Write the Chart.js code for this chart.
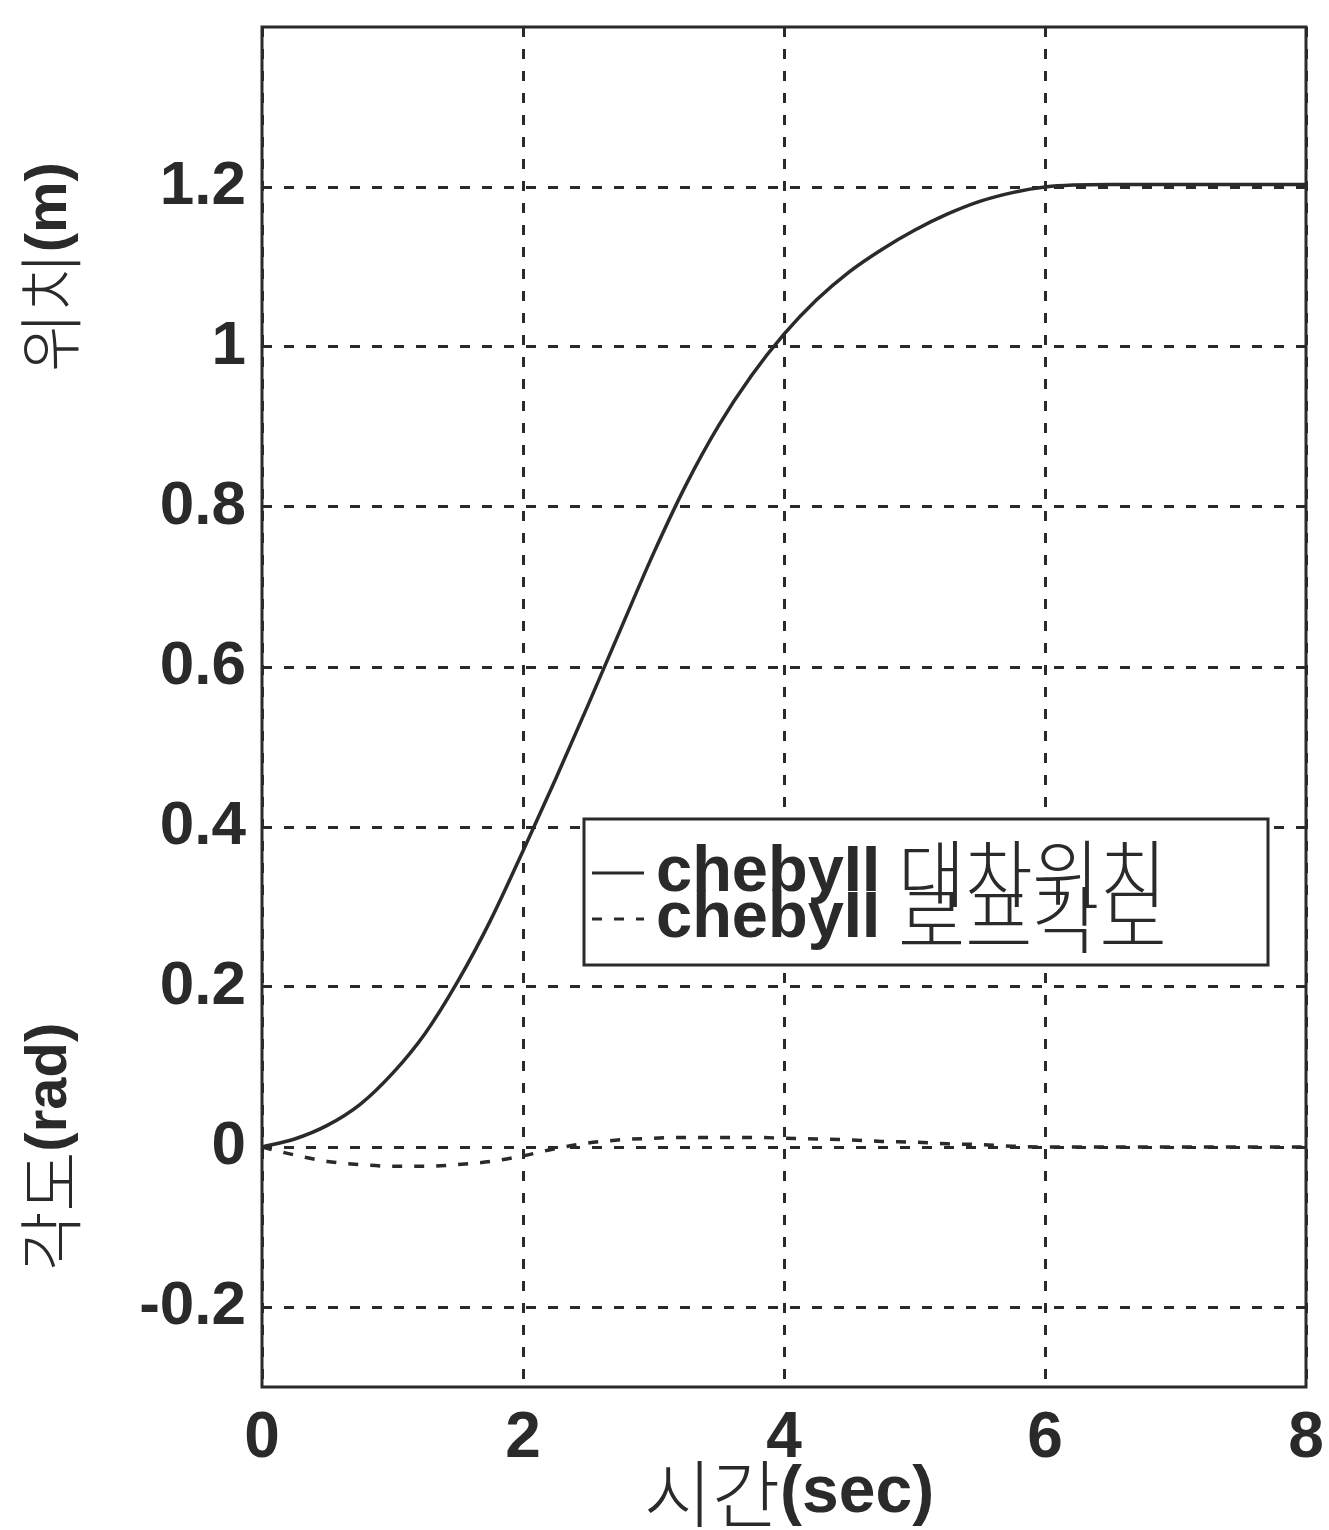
<!DOCTYPE html>
<html>
<head>
<meta charset="utf-8">
<script src="https://cdn.jsdelivr.net/npm/chart.js@4/dist/chart.umd.min.js"></script>
<style>
  html, body { margin: 0; padding: 0; background: #fff; }
  #wrap { width: 1329px; height: 1530px; }
</style>
</head>
<body>
<div id="wrap"><canvas id="plot" width="1329" height="1530"></canvas></div>
<script>
// time axis (sec)
const timeVals = [0, 0.25, 0.5, 0.75, 1.0, 1.25, 1.5, 1.75, 2.0, 2.25, 2.5, 2.75, 3.0, 3.25, 3.5, 3.75,
  4.0, 4.25, 4.5, 4.75, 5.0, 5.25, 5.5, 5.75, 6.0, 6.5, 7.0, 7.5, 8.0];
// cart position (m)
const posVals = [0, 0.010, 0.027, 0.053, 0.092, 0.142, 0.207, 0.283, 0.370, 0.460, 0.553, 0.648, 0.742,
  0.828, 0.902, 0.964, 1.016, 1.059, 1.094, 1.122, 1.146, 1.166, 1.182, 1.193, 1.200, 1.203, 1.203, 1.203, 1.203];
// rope angle (rad)
const angleVals = [0, -0.010, -0.018, -0.022, -0.024, -0.024, -0.022, -0.018, -0.011, -0.002, 0.005, 0.009,
  0.011, 0.012, 0.012, 0.012, 0.011, 0.010, 0.009, 0.007, 0.006, 0.004, 0.003, 0.001, 0.0, 0.0, 0.0, 0.0, 0.0];

const seriesLabels = ['chebyII 대차위치', 'chebyII 로프각도'];
const xTicks = [0, 2, 4, 6, 8];
const yTicks = [-0.2, 0, 0.2, 0.4, 0.6, 0.8, 1.0, 1.2];

const ink = '#2a2a2a';
const latinFont = "'Liberation Sans', Arial, sans-serif";
const koFont = "'Noto Sans CJK KR', sans-serif";

function toPoints(ys) {
  return timeVals.map((t, i) => ({ x: t, y: ys[i] }));
}

// split a label into Korean and Latin runs; Korean thin and a bit larger, Latin bold
function runsOf(str, size) {
  const runs = str.match(/[\uAC00-\uD7A3]+|[^\uAC00-\uD7A3]+/g) || [];
  return runs.map(r => {
    const ko = /[\uAC00-\uD7A3]/.test(r);
    return { r, font: ko ? `300 ${Math.round(size * 1.12)}px ${koFont}` : `bold ${size}px ${latinFont}` };
  });
}

function measureMixed(ctx, str, size) {
  let total = 0;
  runsOf(str, size).forEach(p => {
    ctx.font = p.font;
    total += ctx.measureText(p.r).width;
  });
  return total;
}

function mixedText(ctx, str, x, y, size) {
  let cx = x;
  runsOf(str, size).forEach(p => {
    ctx.font = p.font;
    ctx.fillText(p.r, cx, y);
    cx += ctx.measureText(p.r).width;
  });
}

const framePlugin = {
  id: 'frame',
  afterDraw(chart) {
    const { ctx, chartArea: a, scales } = chart;
    ctx.save();
    // plot box
    ctx.strokeStyle = ink;
    ctx.lineWidth = 3;
    ctx.setLineDash([]);
    ctx.strokeRect(a.left, a.top, a.right - a.left, a.bottom - a.top);

    // x axis title
    ctx.fillStyle = ink;
    ctx.textBaseline = 'middle';
    const xt = '시간(sec)';
    const xw = measureMixed(ctx, xt, 66);
    mixedText(ctx, xt, (a.left + a.right) / 2 - xw / 2 + 5, 1494, 66);

    // two y axis titles, rotated
    const yTitles = [['위치(m)', scales.y.getPixelForValue(1.1)], ['각도(rad)', scales.y.getPixelForValue(0)]];
    yTitles.forEach(([txt, py]) => {
      ctx.save();
      ctx.translate(50, py);
      ctx.rotate(-Math.PI / 2);
      const w = measureMixed(ctx, txt, 58);
      mixedText(ctx, txt, -w / 2, 0, 58);
      ctx.restore();
    });

    // legend box
    const lx = a.left + 322, ly = a.top + 792, lw = 684, lh = 146;
    ctx.fillStyle = '#fff';
    ctx.fillRect(lx, ly, lw, lh);
    ctx.strokeStyle = ink;
    ctx.lineWidth = 3;
    ctx.strokeRect(lx, ly, lw, lh);
    chart.data.datasets.forEach((ds, i) => {
      const rowY = ly + 54 + i * 46;
      ctx.strokeStyle = ink;
      ctx.lineWidth = 3;
      ctx.setLineDash(ds.borderDash || []);
      ctx.beginPath();
      ctx.moveTo(lx + 8, rowY);
      ctx.lineTo(lx + 60, rowY);
      ctx.stroke();
      ctx.setLineDash([]);
      ctx.fillStyle = ink;
      ctx.textBaseline = 'middle';
      mixedText(ctx, ds.label, lx + 72, rowY, 65);
    });
    ctx.restore();
  }
};

new Chart(document.getElementById('plot'), {
  type: 'line',
  data: {
    datasets: [
      {
        label: seriesLabels[0],
        data: toPoints(posVals),
        borderColor: ink,
        borderWidth: 3.5,
        pointRadius: 0,
        cubicInterpolationMode: 'monotone'
      },
      {
        label: seriesLabels[1],
        data: toPoints(angleVals),
        borderColor: ink,
        borderWidth: 3.5,
        borderDash: [10, 12],
        pointRadius: 0,
        cubicInterpolationMode: 'monotone'
      }
    ]
  },
  options: {
    responsive: false,
    animation: false,
    layout: { padding: { top: 0, right: 23, left: 0, bottom: 0 } },
    plugins: {
      legend: { display: false },
      tooltip: { enabled: false }
    },
    scales: {
      x: {
        type: 'linear',
        min: 0,
        max: 8,
        afterBuildTicks: s => { s.ticks = xTicks.map(v => ({ value: v })); },
        afterFit: s => { s.height = 143; s.paddingRight = 0; s.paddingLeft = 0; },
        ticks: {
          color: ink,
          font: { family: latinFont, size: 64, weight: 'bold' },
          padding: 14,
          maxRotation: 0,
          callback: v => String(v)
        },
        grid: {
          color: ink,
          lineWidth: 3,
          drawTicks: false
        },
        border: { display: false, dash: [10, 12] }
      },
      y: {
        type: 'linear',
        min: -0.3,
        max: 1.4,
        afterBuildTicks: s => { s.ticks = yTicks.map(v => ({ value: v })); },
        afterFit: s => { s.width = 262; s.paddingTop = 27; },
        ticks: {
          color: ink,
          font: { family: latinFont, size: 62, weight: 'bold' },
          padding: 16,
          callback: v => String(Math.round(v * 10) / 10)
        },
        grid: {
          color: ink,
          lineWidth: 3,
          drawTicks: false
        },
        border: { display: false, dash: [10, 12] }
      }
    }
  },
  plugins: [framePlugin]
});
</script>
</body>
</html>
